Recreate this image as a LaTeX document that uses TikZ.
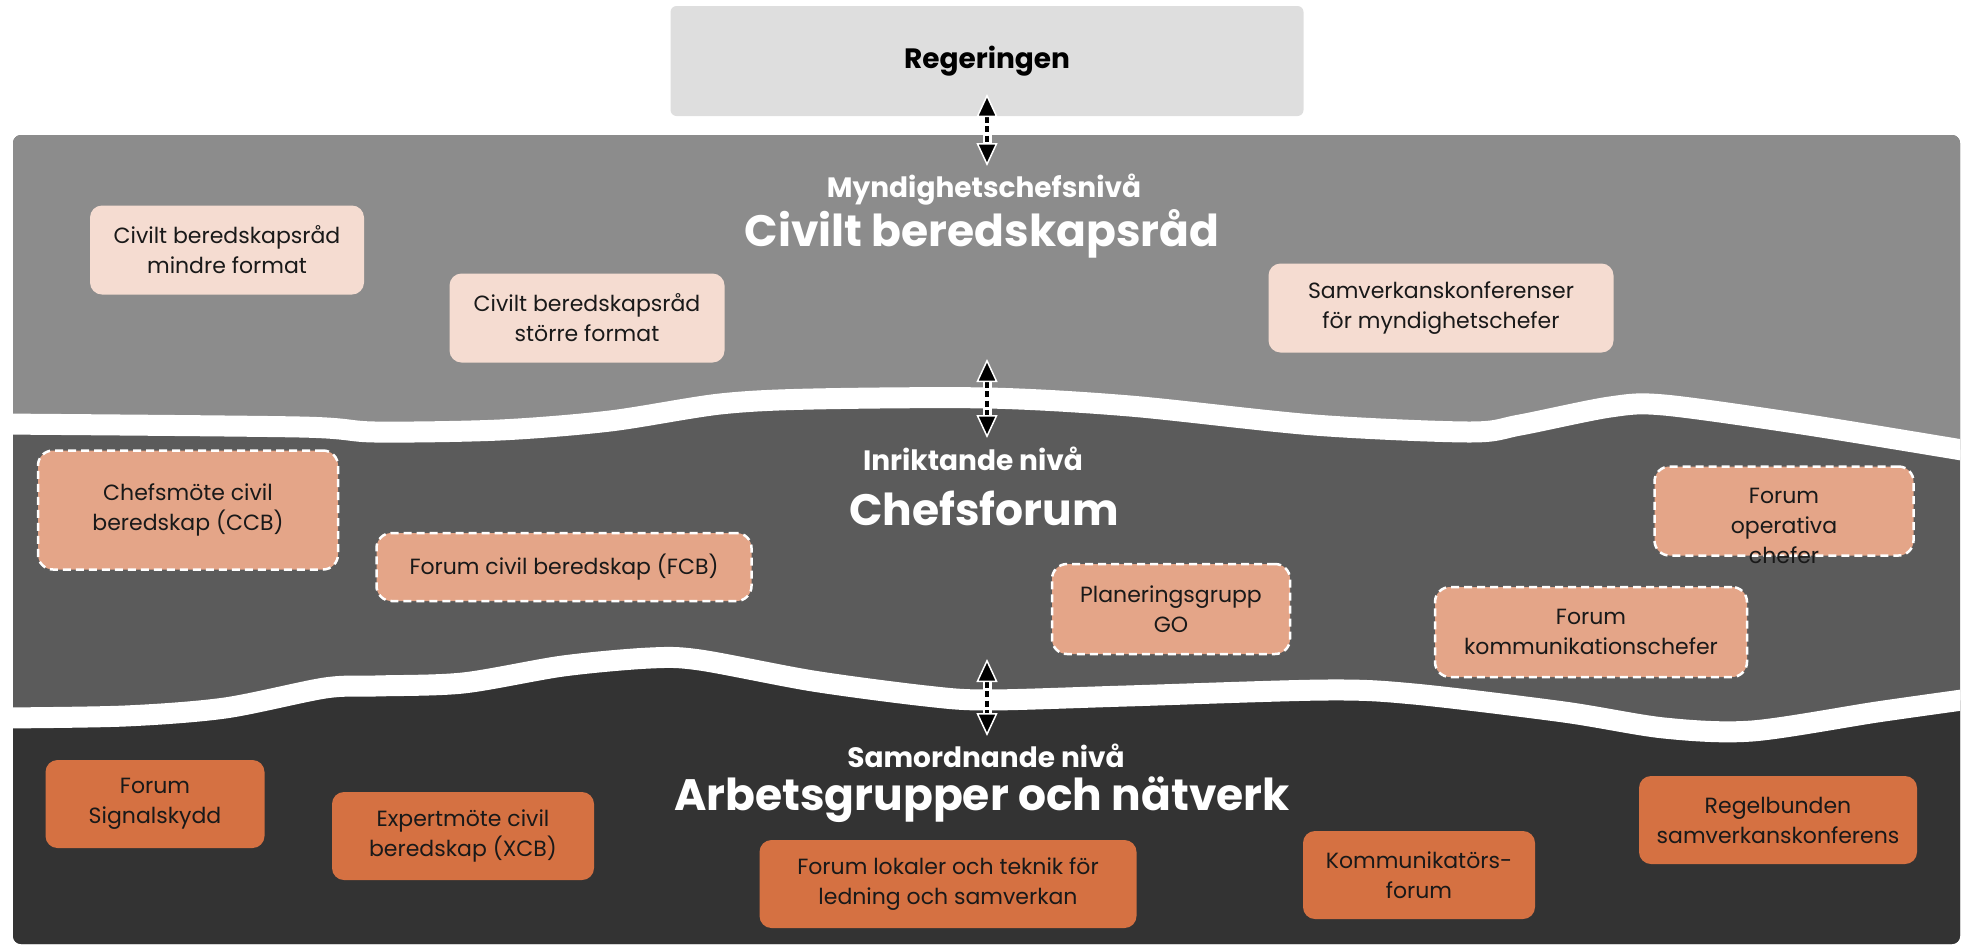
\documentclass[tikz,border=0pt]{standalone}
\usepackage{fontspec}
\setmainfont{Poppins}
\usetikzlibrary{arrows.meta}
\definecolor{bandtop}{HTML}{8C8C8C}
\definecolor{bandmid}{HTML}{5B5B5B}
\definecolor{bandbot}{HTML}{333333}
\definecolor{regfill}{HTML}{DEDEDE}
\definecolor{pinkfill}{HTML}{F5DCD1}
\definecolor{salmonfill}{HTML}{E4A588}
\definecolor{orangefill}{HTML}{D57142}
\newcommand\bxfont{\fontsize{22}{30}\selectfont}
\newcommand\lvlfont{\fontsize{28}{32}\selectfont\bfseries}
\newcommand\titfont{\fontsize{44}{50}\selectfont\bfseries}
\newcommand\regfont{\fontsize{28}{32}\selectfont\bfseries}
% midlines of the white strips between the levels
\def\waveA{--plot[smooth, tension=0.5] coordinates {(0,424) (300,427) (375,432) (500,430) (610,421) (720,404) (813,399) (988,398) (1130,406) (1314,425) (1470,432) (1520,425) (1610,407) (1664,405) (1802,424) (1962,450)}}
\def\waveB{--plot[smooth, tension=0.5] coordinates {(0,718) (125,716) (225,708) (325,688) (375,686) (463,683) (563,666) (650,658) (700,660) (813,681) (926,696) (988,700) (1126,696) (1326,690) (1414,694) (1564,712) (1664,728) (1752,731) (1877,712) (1962,700)}}
\begin{document}
\begin{tikzpicture}[x=1pt, y=-1pt, line join=round,
  regbox/.style={fill=regfill, rounded corners=6pt, minimum width=633pt, minimum height=110pt, font=\regfont},
  pinkbox/.style={fill=pinkfill, rounded corners=12pt, minimum height=89pt, align=center, font=\bxfont, text=black!90},
  dashbox/.style={fill=salmonfill, draw=white, line width=2.5pt, dash pattern=on 8pt off 5pt, rounded corners=15pt, align=center, font=\bxfont, text=black!90},
  orangebox/.style={fill=orangefill, rounded corners=12pt, minimum height=88pt, align=center, font=\bxfont, text=black!90},
  lvltext/.style={text=white, font=\lvlfont},
  tittext/.style={text=white, font=\titfont},
  halo/.style={white, line width=9pt, shorten <=18pt, shorten >=18pt},
  updown/.style={line width=3.5pt, dash pattern=on 6pt off 3.5pt,
    {Triangle[width=21pt, length=23pt, fill=black, color=white, line width=1.5pt]}-{Triangle[width=21pt, length=23pt, fill=black, color=white, line width=1.5pt]}}]
\useasboundingbox (0,0) rectangle (1962,946);

% the three levels
\begin{scope}
  \clip[rounded corners=8pt] (13,135) rectangle (1960,944);
  \fill[bandmid] (0,130) rectangle (1962,946);
  \fill[bandtop] (0,130) -- (0,424) \waveA -- (1962,130) -- cycle;
  \fill[bandbot] (0,946) -- (0,718) \waveB -- (1962,946) -- cycle;
  \draw[white, line width=21pt] (0,424) \waveA;
  \draw[white, line width=21pt] (0,718) \waveB;
\end{scope}

\node[regbox] (reg) at (987,61) {Regeringen};

% level titles
\node[lvltext] (nivaA) at (984,190) {Myndighetschefsnivå};
\node[tittext] (titA) at (982,234) {Civilt beredskapsråd};
\node[lvltext] (nivaB) at (973,459) {Inriktande nivå};
\node[tittext] (titB) at (984,508) {Chefsforum};
\node[lvltext] (nivaC) at (986,756) {Samordnande nivå};
\node[tittext] (titC) at (982,800) {Arbetsgrupper och nätverk};

% myndighetschefsnivå
\node[pinkbox, minimum width=274pt] (cbrmin) at (227,250) {Civilt beredskapsråd\\mindre format};
\node[pinkbox, minimum width=275pt] (cbrstor) at (587,318) {Civilt beredskapsråd\\större format};
\node[pinkbox, minimum width=345pt] (samkonf) at (1441,308) {Samverkanskonferenser\\för myndighetschefer};

% inriktande nivå
\node[dashbox, minimum width=300pt, minimum height=119pt] (ccb) at (188,510) {Chefsmöte civil\\beredskap (CCB)};
\node[dashbox, minimum width=375pt, minimum height=68pt] (fcb) at (564,567) {Forum civil beredskap (FCB)};
\node[dashbox, minimum width=238pt, minimum height=90pt] (plango) at (1171,609) {Planeringsgrupp\\GO};
\node[dashbox, minimum width=259pt, minimum height=89pt] (opchef) at (1784,511) {};
\node[align=center, font=\bxfont, text=black!90] (opcheftext) at (1784,526) {Forum\\operativa\\chefer};
\node[dashbox, minimum width=312pt, minimum height=90pt] (kommchef) at (1591,632) {Forum\\kommunikationschefer};

% samordnande nivå
\node[orangebox, minimum width=219pt] (signal) at (155,804) {Forum\\Signalskydd};
\node[orangebox, minimum width=262pt] (xcb) at (463,836) {Expertmöte civil\\beredskap (XCB)};
\node[orangebox, minimum width=377pt] (lokaler) at (948,884) {Forum lokaler och teknik för\\ledning och samverkan};
\node[orangebox, minimum width=232pt] (kommforum) at (1419,875) {Kommunikatörs-\\forum};
\node[orangebox, minimum width=278pt] (regelb) at (1778,820) {Regelbunden\\samverkanskonferens};

% links between the levels
\coordinate (upA) at (987,94);
\coordinate (dnA) at (987,166);
\coordinate (upB) at (987,359);
\coordinate (dnB) at (987,438);
\coordinate (upC) at (987,659);
\coordinate (dnC) at (987,736);
\foreach \a/\b in {upA/dnA, upB/dnB, upC/dnC}{
  \draw[halo] (\a) -- (\b);
  \draw[updown] (\a) -- (\b);
}
\end{tikzpicture}
\end{document}
